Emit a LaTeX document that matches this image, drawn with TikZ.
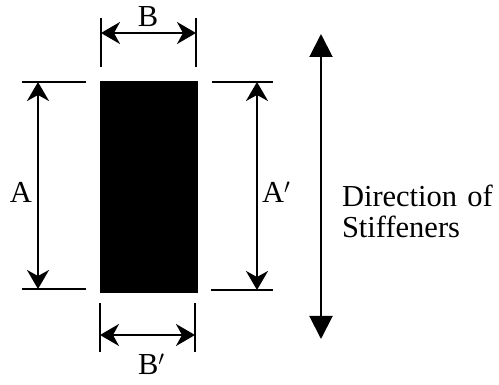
\documentclass[tikz,border=0pt]{standalone}
\usepackage{fontspec}
\setmainfont{Liberation Serif}
\usetikzlibrary{arrows.meta,positioning}

\begin{document}
\begin{tikzpicture}[x=1pt, y=-1pt, line width=2pt, >={Stealth[length=19pt,width=22pt,inset=6pt]}, lbl/.style={font=\fontsize{30.5}{31}\selectfont, inner sep=0pt}]
\useasboundingbox (0,0) rectangle (499,385);
\node[fill=black, minimum width=98pt, minimum height=212pt, inner sep=0pt] (plate) at (149,187) {};
% extension lines
\coordinate (atl) at (22,82); \coordinate (atr) at (86,82);
\coordinate (abl) at (22,289); \coordinate (abr) at (86,289);
\coordinate (rtl) at (212,82); \coordinate (rtr) at (273,82);
\coordinate (rbl) at (211,290); \coordinate (rbr) at (273,290);
\coordinate (btl) at (101,18); \coordinate (btb) at (101,67);
\coordinate (btr) at (196,18); \coordinate (btrb) at (196,67);
\coordinate (bbl) at (100,303); \coordinate (bblb) at (100,352);
\coordinate (bbr) at (195,303); \coordinate (bbrb) at (195,352);
\draw (atl) -- (atr); \draw (abl) -- (abr);
\draw (rtl) -- (rtr); \draw (rbl) -- (rbr);
\draw (btl) -- (btb); \draw (btr) -- (btrb);
\draw (bbl) -- (bblb); \draw (bbr) -- (bbrb);
% dimensions
\coordinate (a1) at (38,82); \coordinate (a2) at (38,289);
\coordinate (ap1) at (257,82); \coordinate (ap2) at (257,290);
\coordinate (b1) at (101,33); \coordinate (b2) at (196,33);
\coordinate (bp1) at (100,335); \coordinate (bp2) at (195,335);
\draw[<->] (a1) -- (a2);
\draw[<->] (ap1) -- (ap2);
\draw[<->] (b1) -- (b2);
\draw[<->] (bp1) -- (bp2);
\node[lbl, anchor=base] (A) at (21,203) {A};
\node[lbl, anchor=base west] (Ap) at (261,203) {A$'$};
\node[lbl, anchor=base] (B) at (148,27) {B};
\node[lbl, anchor=base west] (Bp) at (137,375) {B$'$};
% stiffener direction
\coordinate (d1) at (321,34); \coordinate (d2) at (321,339);
\draw[{Triangle[length=23pt,width=23pt]}-{Triangle[length=23pt,width=23pt]}] (d1) -- (d2);
\node[lbl, anchor=base west] (dir) at (341,207) {Direction\,\,of};
\node[lbl, anchor=base west] (stf) at (341,238) {Stiffeners};
\end{tikzpicture}
\end{document}
